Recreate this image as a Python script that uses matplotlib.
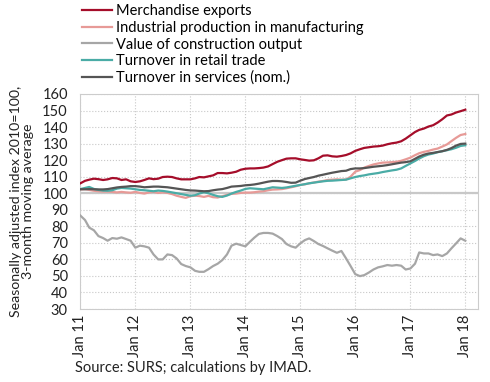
import numpy as np
import pandas as pd
import matplotlib
matplotlib.use("Agg")
import matplotlib.pyplot as plt
import matplotlib.dates as mdates

plt.rcParams['font.family'] = ['Lato', 'DejaVu Sans']

months = pd.date_range('2011-01-01', '2018-01-01', freq='MS')

exports = [106, 107.5, 108.2, 108.8, 108.5, 108, 108.4, 109.2, 109, 108, 108.4, 107.2,
           106.8, 107.2, 108, 109, 108.5, 108.8, 109.8, 110, 109.8, 109, 108.4, 108.4,
           108.4, 109, 109.8, 109.6, 110.2, 110.8, 112.2, 112.2, 112, 112.4, 113, 114.2,
           114.8, 115, 115, 115.2, 115.5, 116.2, 117.6, 119, 120, 120.9, 121.1, 121.1,
           120.5, 120.1, 119.7, 119.9, 121.1, 122.7, 122.9, 122.3, 122.1, 122.5, 123.1, 124.1,
           125.6, 126.6, 127.4, 127.8, 128.2, 128.4, 128.8, 129.6, 130.2, 130.6, 131.4, 133,
           135, 137, 138.3, 139.1, 140.3, 141.1, 142.7, 144.7, 147, 147.6, 148.8, 149.6,
           150.5]

industry = [102.3, 102.5, 102, 101.5, 101.2, 101, 101, 100.8, 100.5, 100.8, 100.5, 100.3,
            100.8, 100.2, 99.8, 100.5, 100.8, 100.2, 100.5, 100.2, 99.5, 98.5, 97.8, 97.2,
            98.2, 98.5, 98.3, 97.8, 98.4, 97.6, 97.4, 98.2, 99, 99.6, 99.8, 100.2,
            100.4, 100.4, 100.6, 101, 101.2, 101.8, 102.2, 102.3, 102.5, 103, 103.6, 104.2,
            105, 105.4, 106, 106.5, 107, 107.4, 108, 108.2, 108.4, 108.2, 108.3, 110,
            113, 114, 115.5, 116.5, 117.4, 118, 118.5, 118.6, 118.8, 119, 119.6, 120.5,
            121.5, 123, 124.2, 125, 125.6, 126.4, 127, 128.2, 129.5, 131.5, 133.5, 135.2,
            135.8]

construction = [86.5, 83.8, 79.2, 77.6, 74.1, 72.9, 71.3, 72.9, 72.5, 73.3, 72.3, 71.3,
                67.1, 68.3, 67.9, 67.1, 63, 60, 60, 63, 62.6, 60.6, 57.2, 56,
                55.2, 53.1, 52.5, 52.5, 54.1, 56, 57.4, 59.6, 63, 68.3, 69.5, 68.7,
                67.9, 70.7, 73.1, 75.4, 76, 76, 75.6, 74.1, 72.3, 69.3, 67.9, 67.1,
                69.7, 71.7, 72.7, 71.1, 69.3, 68.1, 66.7, 65.3, 64, 65.1, 60.6, 56,
                51.1, 49.9, 50.5, 52.1, 53.9, 55.2, 55.8, 56.6, 56.2, 56.6, 56.2, 53.9,
                54.5, 57.4, 64.2, 63.6, 63.6, 62.6, 63, 62, 63.6, 66.7, 69.7, 72.7,
                71.3]

retail = [102.5, 103.2, 103.8, 102.6, 102, 101.6, 101.5, 101.8, 102.8, 103.2, 103, 102.8,
          102.4, 102, 101.8, 101.5, 101.2, 101.6, 101.4, 101, 100.5, 100, 99.5, 99,
          98.5, 98.8, 99.8, 100.6, 100, 99, 98.2, 97.8, 98.6, 99.8, 100.8, 101.6,
          102.6, 103, 102.8, 102.6, 102.4, 103, 103.6, 103.4, 103.2, 103.5, 104, 104.5,
          105, 105.5, 106, 106.4, 106.8, 107.2, 107.5, 107.6, 107.8, 108, 108.2, 109,
          109.8, 110.4, 110.8, 111.4, 111.8, 112.2, 112.8, 113.3, 113.8, 114.2, 115, 116.5,
          118, 119.5, 121, 122.4, 123.4, 124, 124.8, 125.4, 126, 126.6, 127.5, 128.6,
          129]

services = [102.4, 102.4, 102.5, 102.4, 102.3, 102.3, 102.5, 103, 103.5, 103.8, 104, 104.3,
            104.3, 104, 103.6, 103.8, 104, 104, 103.8, 103.6, 103.2, 102.8, 102.4, 102,
            101.7, 101.6, 101.4, 101.2, 101.3, 101.8, 102.2, 102.5, 103.2, 104, 104.2, 104.4,
            104.8, 105, 105.3, 105.8, 106.4, 107, 107.4, 107.4, 107.2, 106.8, 106.3, 106.4,
            107.6, 108.6, 109.2, 109.8, 110.6, 111.2, 111.8, 112.4, 112.9, 113.4, 113.6, 114.6,
            115, 115, 115.2, 115.6, 116, 116.3, 116.6, 117, 117.5, 118, 118.5, 118.8,
            119.3, 120.8, 122.2, 123.3, 124, 124.4, 124.9, 125.4, 126.2, 127.3, 128.8, 129.8,
            130]

fig = plt.figure(figsize=(4.9, 3.82), dpi=100)
ax = fig.add_axes([0.164, 0.191, 0.812, 0.563])

ax.axhline(100, color='#c8c8c8', lw=1.6, zorder=1)
ax.plot(months, exports, color='#a50d2a', lw=1.6, label='Merchandise exports', zorder=3)
ax.plot(months, industry, color='#e79a97', lw=1.6, label='Industrial production in manufacturing', zorder=3)
ax.plot(months, construction, color='#a6a6a6', lw=1.6, label='Value of construction output', zorder=3)
ax.plot(months, retail, color='#4aaca6', lw=1.6, label='Turnover in retail trade', zorder=3)
ax.plot(months, services, color='#555555', lw=1.6, label='Turnover in services (nom.)', zorder=3)

ax.set_ylim(30, 160)
ax.set_yticks(range(30, 161, 10))
ax.set_xlim(pd.Timestamp('2011-01-01'), pd.Timestamp('2018-03-28'))
ax.xaxis.set_major_locator(mdates.YearLocator())
ax.xaxis.set_major_formatter(mdates.DateFormatter('Jan %y'))
plt.setp(ax.get_xticklabels(), rotation=90)
ax.tick_params(length=0, labelsize=10.5, colors='#222222')
ax.tick_params(axis='y', pad=9)
ax.tick_params(axis='x', pad=4)
ax.grid(True, color='#c8c8c8', linestyle=':', lw=0.8)
for s in ax.spines.values():
    s.set_color('#cccccc')

ax.set_ylabel('Seasonally adjusted index 2010=100,\n3-month moving average', fontsize=10.2,
              color='#222222', labelpad=6, linespacing=1.0)

fig.legend(loc='upper left', bbox_to_anchor=(0.155, 1.004), frameon=False, fontsize=10.5,
           handlelength=2.05, handletextpad=0.3, labelspacing=0.18, borderaxespad=0)

fig.text(0.153, 0.025, 'Source: SURS; calculations by IMAD.', fontsize=10.5, color='#222222')

fig.savefig('out.png', dpi=100)
